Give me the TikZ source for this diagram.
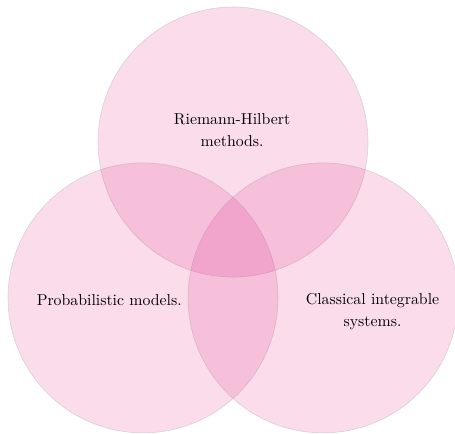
\documentclass[tikz,border=0pt]{standalone}
\usetikzlibrary{calc}
\definecolor{venn}{RGB}{222,22,122}
\tikzset{
  vcircle/.style={fill=venn, fill opacity=0.15, draw=gray, draw opacity=0.25, line width=0.4pt},
  vlabel/.style={align=center, text=black, font=\normalsize}
}
\begin{document}
\begin{tikzpicture}
\useasboundingbox (-3.178,-3.02) rectangle (6.933,6.62);
\coordinate (A) at (0,0);
\coordinate (B) at (4,0);
\coordinate (C) at (2,3.464);
\draw[vcircle] (C) circle (3cm);
\draw[vcircle] (A) circle (3cm);
\draw[vcircle] (B) circle (3cm);
\node[vlabel] (tc) at (1.98,3.72) {Riemann-Hilbert\\[2pt]methods.};
\node[vlabel] (tl) at (-0.75,-0.05) {Probabilistic models.};
\node[vlabel] (tr) at (5.1,-0.30) {Classical integrable\\[2pt]systems.};
\end{tikzpicture}
\end{document}
